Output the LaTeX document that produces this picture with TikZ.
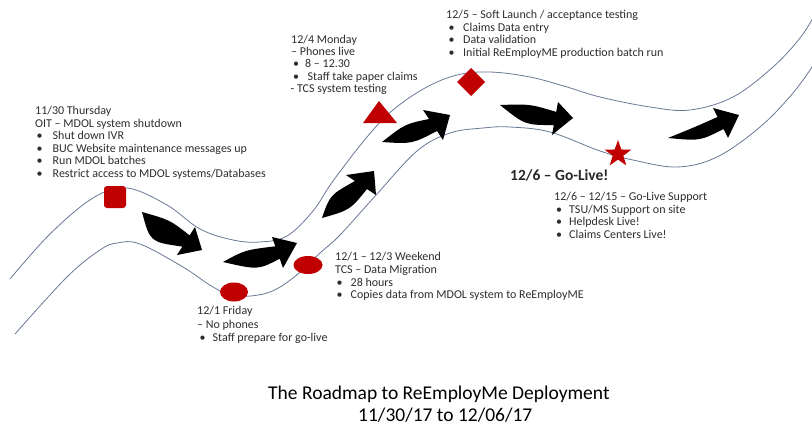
\documentclass[tikz,border=0pt]{standalone}
\usepackage{fontspec}
\setmainfont{Carlito}
\usetikzlibrary{shapes.geometric}
\definecolor{roadred}{RGB}{192,0,0}
\definecolor{roadline}{RGB}{105,120,150}
\definecolor{txtc}{RGB}{45,45,45}
\newcommand{\bitem}[2]{\makebox[#1pt][l]{\textbullet}#2}
\begin{document}
\begin{tikzpicture}[x=1pt,y=-1pt,
  txt/.style={anchor=base west, inner sep=0pt, font=\fontsize{12}{13}\selectfont, text=txtc},
  road/.style={draw=roadline, line width=0.8pt},
  swoosh/.style={fill=black, draw=none},
  marker/.style={fill=roadred, draw=none}]
\useasboundingbox (0,0) rectangle (812,426);

% road
\draw[road] plot[smooth, tension=0.6] coordinates {(10,279) (50,234) (93,198) (127,188) (167,205) (200,229) (233,240) (260,242) (287,236) (313,211) (333,181) (367,137) (393,110) (425,88) (457,75) (490,72) (530,77) (567,87) (600,97) (650,107) (690,110) (733,97) (773,67) (800,38) (814,16)};
\draw[road] plot[smooth, tension=0.6] coordinates {(15,334) (67,277) (100,250) (117,243) (140,244) (183,267) (213,287) (235,296) (267,293) (293,278) (320,253) (340,235) (377,194) (417,151) (450,133) (483,128) (510,127) (550,132) (600,151) (633,160) (677,167) (717,157) (760,127) (793,93) (814,64)};

% markers
\fill[marker, rounded corners=3pt] (104,186) rectangle (126,208);
\fill[marker] (234,292) ellipse [x radius=14, y radius=9.5];
\fill[marker] (308,265) ellipse [x radius=14.5, y radius=9];
\fill[marker] (363,123) -- (379,101) -- (397,123) -- cycle;
\fill[marker] (457,82) -- (471,68) -- (485,82) -- (471,96) -- cycle;
\node[star, star points=5, star point ratio=2.5, marker, minimum size=28pt, inner sep=0pt] (star) at (618,154) {};

% arrows
\fill[swoosh] (142,212) .. controls (170,220) .. (189.6,235.4) -- (195,227) -- (202,250) -- (177,255) -- (182.4,246.6) .. controls (150,242) .. (142,212) -- cycle;
\fill[swoosh] (223,262) .. controls (245,250) .. (275.3,246.3) -- (272,237) -- (297,243) -- (283,268) -- (279.7,258.7) .. controls (258,270) .. (223,262) -- cycle;
\fill[swoosh] (322,218) .. controls (330,195) .. (355,181) -- (346,175) -- (374,171) -- (376,195) -- (367,189) .. controls (350,210) .. (322,218) -- cycle;
\fill[swoosh] (382,142) .. controls (405,124) .. (429,119) -- (423,110) -- (450,115) -- (443,140) -- (437,131) .. controls (412,144) .. (382,142) -- cycle;
\fill[swoosh] (500,105) .. controls (530,104) .. (556.2,111.9) -- (558,102) -- (573,118) -- (552,135) -- (553.8,125.1) .. controls (525,125) .. (500,105) -- cycle;
\fill[swoosh] (668,138) .. controls (695,127) .. (717.5,117) -- (713,108) -- (739,115) -- (728,138) -- (723.5,129) .. controls (700,141) .. (668,138) -- cycle;

% block A
\node[txt] (a1) at (35,114) {11/30 Thursday};
\node[txt] (a2) at (35,127) {OIT – MDOL system shutdown};
\node[txt] (a3) at (36.5,139.5) {\bitem{16}{Shut down IVR}};
\node[txt] (a4) at (36.5,152) {\bitem{16}{BUC Website  maintenance messages up}};
\node[txt] (a5) at (36.5,164.5) {\bitem{16}{Run MDOL batches}};
\node[txt] (a6) at (36.5,177) {\bitem{16}{Restrict access to MDOL systems/Databases}};

% block B
\node[txt] (b1) at (291,43.5) {12/4 Monday};
\node[txt] (b2) at (291,55.5) {– Phones live};
\node[txt] (b3) at (293,67.5) {\bitem{12}{8 – 12.30}};
\node[txt] (b4) at (293,80) {\bitem{14.5}{Staff take paper claims}};
\node[txt] (b5) at (290.5,92) {- TCS system testing};

% block C
\node[txt] (c1) at (446,18.5) {12/5 – Soft Launch / acceptance testing};
\node[txt] (c2) at (448.5,31) {\bitem{14.5}{Claims Data entry}};
\node[txt] (c3) at (448.5,43.5) {\bitem{14.5}{Data validation}};
\node[txt] (c4) at (448.5,56) {\bitem{14.5}{Initial ReEmployME production batch run}};

% block D
\node[txt] (d1) at (335,260) {12/1 – 12/3  Weekend};
\node[txt] (d2) at (335,273) {TCS – Data Migration};
\node[txt] (d3) at (336.5,286) {\bitem{14}{28 hours}};
\node[txt] (d4) at (336.5,298.5) {\bitem{14}{Copies data from MDOL system to ReEmployME}};

% block E
\node[txt] (e1) at (197,314) {12/1 Friday};
\node[txt] (e2) at (197,328) {– No phones};
\node[txt] (e3) at (199.5,341.5) {\bitem{13}{Staff prepare for go-live}};

% block F
\node[txt, font=\fontsize{15.5}{17}\selectfont\bfseries, text=black!85] (golive) at (510,180) {12/6 – Go-Live!};
\node[txt] (f1) at (554,200) {12/6 – 12/15 – Go-Live Support};
\node[txt] (f2) at (556,213.5) {\bitem{13}{TSU/MS Support on site}};
\node[txt] (f3) at (556,225.5) {\bitem{13}{Helpdesk Live!}};
\node[txt] (f4) at (556,238) {\bitem{13}{Claims Centers Live!}};

% title
\node[txt, font=\fontsize{19.5}{21}\selectfont, text=black] (title1) at (268,399) {The Roadmap to ReEmployMe Deployment};
\node[txt, font=\fontsize{19.5}{21}\selectfont, text=black] (title2) at (358,421) {11/30/17 to 12/06/17};
\end{tikzpicture}
\end{document}
